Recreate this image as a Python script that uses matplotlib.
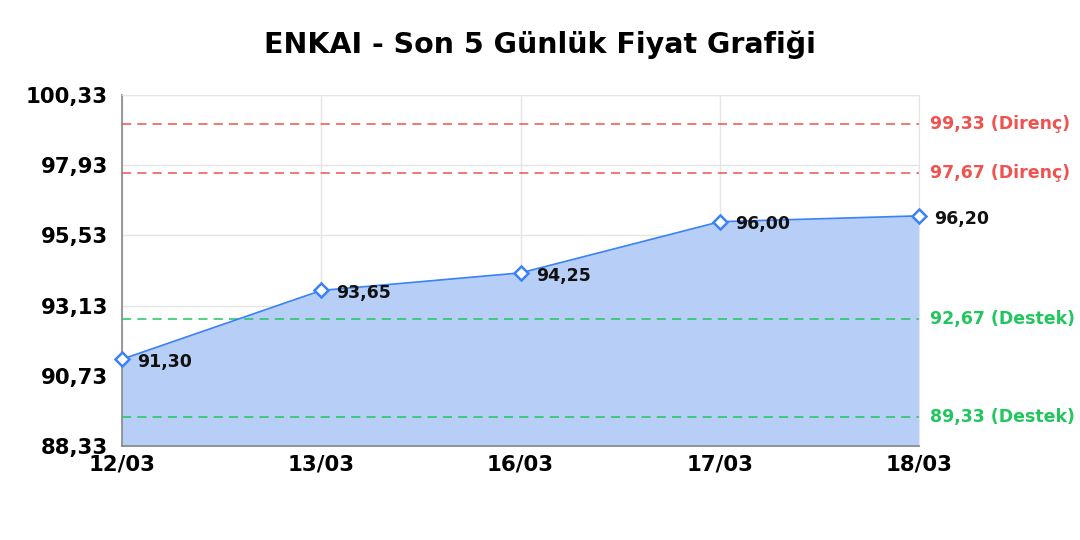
import matplotlib
matplotlib.use("Agg")
import matplotlib.pyplot as plt

# Veriler
dates = ["12/03", "13/03", "16/03", "17/03", "18/03"]
prices = [91.30, 93.65, 94.25, 96.00, 96.20]
resistance = [99.33, 97.67]
support = [92.67, 89.33]
y_ticks = [88.33, 90.73, 93.13, 95.53, 97.93, 100.33]


def tr(v):
    return f"{v:.2f}".replace(".", ",")


plt.rcParams['font.family'] = ['DejaVu Sans']
fig = plt.figure(figsize=(10.8, 5.4), dpi=100)
ax = fig.add_axes([0.113, 0.174, 0.738, 0.65])

x = list(range(len(dates)))
ax.fill_between(x, prices, y_ticks[0], color="#b7cff7", zorder=1)
ax.plot(x, prices, color="#3b82f6", lw=1.2, marker="D", markersize=7,
        markerfacecolor="white", markeredgecolor="#3b82f6",
        markeredgewidth=1.8, zorder=4, clip_on=False)

for xi, p in zip(x, prices):
    ax.annotate(tr(p), (xi, p), xytext=(11, -2), textcoords="offset points",
                ha="left", va="center", fontsize=12.5, fontweight="bold",
                color="#111111", zorder=5, annotation_clip=False)

for r in resistance:
    ax.axhline(r, color="#ef5350", ls=(0, (6, 4)), lw=1.1, zorder=3)
    ax.annotate(f"{tr(r)} (Direnç)", (1, r), xycoords=("axes fraction", "data"),
                xytext=(8, 0), textcoords="offset points", va="center",
                fontsize=12.5, fontweight="bold", color="#ef5350",
                annotation_clip=False)
for s in support:
    ax.axhline(s, color="#22c55e", ls=(0, (6, 4)), lw=1.1, zorder=3)
    ax.annotate(f"{tr(s)} (Destek)", (1, s), xycoords=("axes fraction", "data"),
                xytext=(8, 0), textcoords="offset points", va="center",
                fontsize=12.5, fontweight="bold", color="#22c55e",
                annotation_clip=False)

ax.set_xlim(0, len(dates) - 1)
ax.set_ylim(y_ticks[0], y_ticks[-1])
ax.set_xticks(x)
ax.set_xticklabels(dates, fontsize=15.3, fontweight="bold")
ax.set_yticks(y_ticks)
ax.set_yticklabels([tr(v) for v in y_ticks], fontsize=15.3, fontweight="bold")
ax.tick_params(axis="y", length=0, pad=10)
ax.tick_params(axis="x", length=0, pad=6)
ax.grid(True, color="#e5e5e5", lw=1, zorder=0)
ax.set_axisbelow(True)

for side in ["top", "right"]:
    ax.spines[side].set_color("#e5e5e5")
for side in ["left", "bottom"]:
    ax.spines[side].set_color("#888888")
    ax.spines[side].set_linewidth(1.2)

fig.text(0.5, 0.918, "ENKAI - Son 5 Günlük Fiyat Grafiği", ha="center",
         va="center", fontsize=20.5, fontweight="bold")

fig.savefig("out.png", dpi=100)
